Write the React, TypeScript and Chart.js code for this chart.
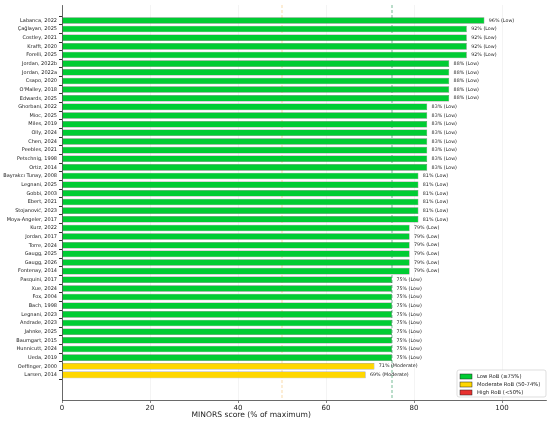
import React, { useEffect, useRef } from 'react';
import { Chart, registerables } from 'chart.js';
Chart.register(...registerables);

const studies: string[] = [
  'Labanca, 2022', 'Çağlayan, 2025', 'Costley, 2021', 'Krafft, 2020', 'Forelli, 2025',
  'Jordan, 2022b', 'Jordan, 2022a', 'Csapo, 2020', "O'Malley, 2018", 'Edwards, 2025',
  'Ghorbani, 2022', 'Mioc, 2025', 'Miles, 2019', 'Olly, 2024', 'Chen, 2024',
  'Peebles, 2021', 'Petschnig, 1998', 'Ortiz, 2014', 'Bayrakcı Tunay, 2008', 'Legnani, 2025',
  'Gobbi, 2003', 'Ebert, 2021', 'Stojanović, 2023', 'Moya-Angeler, 2017', 'Kurz, 2022',
  'Jordan, 2017', 'Torre, 2024', 'Gaugg, 2025', 'Gaugg, 2026', 'Fontenay, 2014',
  'Pasquini, 2017', 'Xue, 2024', 'Fox, 2004', 'Bach, 1998', 'Legnani, 2023',
  'Andrade, 2023', 'Jahnke, 2025', 'Baumgart, 2015', 'Hunnicutt, 2024', 'Ueda, 2019',
  'Oeffinger, 2000', 'Larsen, 2014',
];

const scores: number[] = [
  96, 92, 92, 92, 92,
  88, 88, 88, 88, 88,
  83, 83, 83, 83, 83,
  83, 83, 83, 81, 81,
  81, 81, 81, 81, 79,
  79, 79, 79, 79, 79,
  75, 75, 75, 75, 75,
  75, 75, 75, 75, 75,
  71, 69,
];

const riskLevels: string[] = [
  'Low', 'Low', 'Low', 'Low', 'Low',
  'Low', 'Low', 'Low', 'Low', 'Low',
  'Low', 'Low', 'Low', 'Low', 'Low',
  'Low', 'Low', 'Low', 'Low', 'Low',
  'Low', 'Low', 'Low', 'Low', 'Low',
  'Low', 'Low', 'Low', 'Low', 'Low',
  'Low', 'Low', 'Low', 'Low', 'Low',
  'Low', 'Low', 'Low', 'Low', 'Low',
  'Moderate', 'Moderate',
];

const xTicks: number[] = [0, 20, 40, 60, 80, 100];
const thresholds: number[] = [50, 75];
const legendLabels: string[] = ['Low RoB (≥75%)', 'Moderate RoB (50-74%)', 'High RoB (<50%)'];
const xTitle = 'MINORS score (% of maximum)';

const riskColors: Record<string, string> = {
  Low: '#00cc33',
  Moderate: '#ffd700',
  High: '#e8302e',
};
const legendColors = [riskColors.Low, riskColors.Moderate, riskColors.High];
const thresholdColors = ['rgba(240,170,60,0.55)', 'rgba(40,150,90,0.8)'];
const FONT = "'DejaVu Sans', sans-serif";

const overlayPlugin = {
  id: 'overlay',
  beforeDatasetsDraw(chart: any) {
    const { ctx, chartArea, scales } = chart;
    const xs = scales.x;
    ctx.save();
    ctx.lineWidth = 0.8;
    ctx.setLineDash([3, 2]);
    thresholds.forEach((t, i) => {
      const px = xs.getPixelForValue(t);
      ctx.strokeStyle = thresholdColors[i];
      ctx.beginPath();
      ctx.moveTo(px, chartArea.top);
      ctx.lineTo(px, chartArea.bottom);
      ctx.stroke();
    });
    ctx.restore();
  },
  afterDatasetsDraw(chart: any) {
    const { ctx, chartArea, scales } = chart;
    const xs = scales.x;
    const meta = chart.getDatasetMeta(0);
    ctx.save();
    ctx.font = `4.8px ${FONT}`;
    ctx.fillStyle = '#222';
    ctx.textAlign = 'left';
    ctx.textBaseline = 'middle';
    meta.data.forEach((el: any, i: number) => {
      const v = scores[i];
      ctx.fillText(`${v}% (${riskLevels[i]})`, xs.getPixelForValue(v + 1), el.y);
    });

    // axis title
    ctx.font = `7.6px ${FONT}`;
    ctx.textAlign = 'center';
    ctx.fillText(xTitle, xs.getPixelForValue(43), chart.height - 6.5);
    ctx.textAlign = 'left';

    // legend box (lower right inside plot)
    const boxW = 89;
    const boxH = 27;
    const bx = chartArea.right - boxW;
    const by = chartArea.bottom - boxH - 3;
    ctx.fillStyle = 'rgba(255,255,255,0.85)';
    ctx.strokeStyle = '#d0d0d0';
    ctx.lineWidth = 0.7;
    ctx.beginPath();
    (ctx as any).roundRect(bx, by, boxW, boxH, 2);
    ctx.fill();
    ctx.stroke();
    legendLabels.forEach((lab, i) => {
      const cy = by + 6.5 + i * 8;
      ctx.fillStyle = legendColors[i];
      ctx.fillRect(bx + 3, cy - 2.5, 12, 5);
      ctx.strokeStyle = '#222';
      ctx.lineWidth = 0.5;
      ctx.strokeRect(bx + 3, cy - 2.5, 12, 5);
      ctx.fillStyle = '#222';
      ctx.font = `5.3px ${FONT}`;
      ctx.fillText(lab, bx + 20, cy + 0.3);
    });
    ctx.restore();
  },
};

export default function App() {
  const ref = useRef<HTMLCanvasElement | null>(null);
  useEffect(() => {
    if (!ref.current) return;
    const chart = new Chart(ref.current, {
      type: 'bar',
      data: {
        datasets: [
          {
            data: scores.map((s, i) => ({ x: s, y: i })),
            backgroundColor: riskLevels.map((r) => riskColors[r]),
            borderColor: 'rgba(40,40,40,0.75)',
            borderWidth: 0.5,
            borderSkipped: false,
            barPercentage: 0.76,
            categoryPercentage: 1,
          } as any,
        ],
      },
      options: {
        indexAxis: 'y',
        animation: false,
        responsive: true,
        maintainAspectRatio: false,
        layout: { padding: { top: 3, right: 4, left: 0, bottom: 0 } },
        plugins: { legend: { display: false }, tooltip: { enabled: false } },
        scales: {
          x: {
            type: 'linear',
            min: 0,
            max: 110,
            afterBuildTicks: (s: any) => {
              s.ticks = xTicks.map((v) => ({ value: v }));
            },
            afterFit: (s: any) => {
              s.height = 22;
            },
            grid: {
              color: 'rgba(0,0,0,0.08)',
              lineWidth: 0.6,
              tickLength: 3,
              tickColor: '#333',
            },
            border: { display: true, color: '#444', width: 0.8 },
            ticks: {
              font: { family: FONT, size: 7 },
              color: '#222',
              padding: 1,
            },
          },
          y: {
            type: 'linear',
            reverse: true,
            min: -1.24,
            max: 43.36,
            afterBuildTicks: (s: any) => {
              s.ticks = studies.map((_, i) => ({ value: i }));
            },
            afterFit: (s: any) => {
              s.width = 62;
            },
            grid: {
              drawOnChartArea: false,
              tickLength: 3,
              tickColor: '#333',
            },
            border: { display: true, color: '#444', width: 0.8 },
            ticks: {
              autoSkip: false,
              font: { family: FONT, size: 5 },
              color: '#222',
              padding: 2,
              callback: (v: any) => studies[v as number] ?? '',
            },
          },
        },
      } as any,
      plugins: [overlayPlugin],
    });
    return () => chart.destroy();
  }, []);

  return (
    <div style={{ position: 'fixed', left: 0, top: 0, width: 550, height: 422, background: '#fff' }}>
      <canvas ref={ref} />
    </div>
  );
}
